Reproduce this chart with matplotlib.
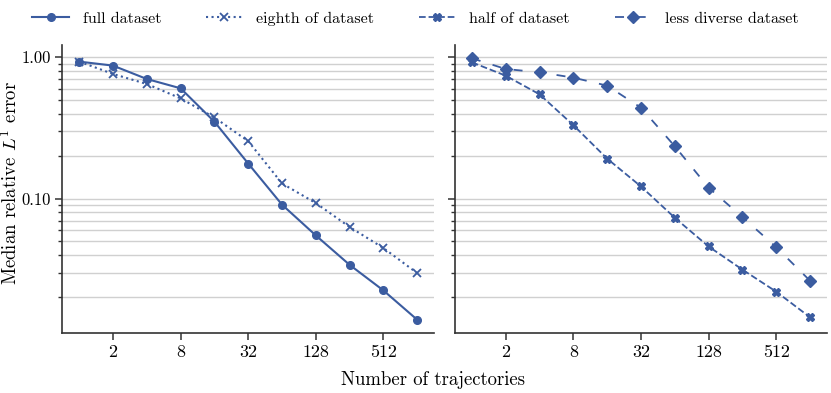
import matplotlib
matplotlib.use("Agg")
import matplotlib.pyplot as plt
from matplotlib.ticker import FixedLocator, FixedFormatter, LogLocator, NullFormatter

plt.rcParams['font.family'] = 'serif'
plt.rcParams['font.serif'] = ['cmr10', 'DejaVu Serif']
plt.rcParams['mathtext.fontset'] = 'cm'
plt.rcParams['axes.formatter.use_mathtext'] = True

# data
n_traj = [1, 2, 4, 8, 16, 32, 64, 128, 256, 512, 1024]
full = [0.932, 0.873, 0.702, 0.603, 0.350, 0.177, 0.0906, 0.0549, 0.0340, 0.0224, 0.0139]
eighth = [0.932, 0.762, 0.647, 0.512, 0.375, 0.255, 0.128, 0.093, 0.063, 0.0447, 0.0297]
half = [0.921, 0.741, 0.547, 0.331, 0.192, 0.122, 0.0733, 0.0459, 0.0315, 0.022, 0.0145]
less_diverse = [0.984, 0.826, 0.783, 0.718, 0.630, 0.440, 0.235, 0.1197, 0.0741, 0.0454, 0.0263]

x_ticks = [2, 8, 32, 128, 512]
y_ticks = [0.1, 1.0]
y_tick_labels = ['0.10', '1.00']

blue = '#3b5ca0'

fig, (ax1, ax2) = plt.subplots(1, 2, figsize=(8.31, 3.93), dpi=100, sharey=True)
fig.subplots_adjust(left=0.075, right=0.995, top=0.885, bottom=0.153, wspace=0.056)

l1, = ax1.plot(n_traj, full, color=blue, marker='o', ms=5.5, lw=1.5, label='full dataset')
l2, = ax1.plot(n_traj, eighth, color=blue, marker='x', ms=5.5, mew=1.3, lw=1.5, ls=':',
               label='eighth of dataset')
l3, = ax2.plot(n_traj, half, color=blue, marker='X', ms=6, lw=1.3, ls='--',
               label='half of dataset')
l4, = ax2.plot(n_traj, less_diverse, color=blue, marker='D', ms=6, lw=1.3,
               ls=(0, (5, 7)), label='less diverse dataset')

for ax in (ax1, ax2):
    ax.set_xscale('log', base=2)
    ax.set_yscale('log')
    ax.xaxis.set_major_locator(FixedLocator(x_ticks))
    ax.xaxis.set_major_formatter(FixedFormatter([str(t) for t in x_ticks]))
    ax.xaxis.set_minor_locator(FixedLocator([]))
    ax.yaxis.set_major_locator(FixedLocator(y_ticks))
    ax.yaxis.set_major_formatter(FixedFormatter(y_tick_labels))
    ax.yaxis.set_minor_locator(LogLocator(base=10, subs=range(2, 10)))
    ax.yaxis.set_minor_formatter(NullFormatter())
    ax.grid(True, axis='y', which='both', color='#d0d0d0', lw=1.0)
    ax.set_axisbelow(True)
    for s in ('top', 'right'):
        ax.spines[s].set_visible(False)
    for s in ('left', 'bottom'):
        ax.spines[s].set_linewidth(1.2)
        ax.spines[s].set_color('#333333')
    ax.tick_params(axis='x', which='major', length=5, width=1.1, color='#333333',
                   labelsize=13)
    ax.tick_params(axis='y', which='major', length=5, width=1.1, color='#333333',
                   labelsize=12)
    ax.tick_params(axis='y', which='minor', length=3, width=1.0, color='#333333')

ax1.set_ylabel('Median relative $L^1$ error', fontsize=13.5)
ax1.yaxis.set_label_coords(-0.11, 0.523)
fig.text(0.521, 0.01, 'Number of trajectories', ha='center', va='bottom', fontsize=13.5)

fig.legend(handles=[l1, l2, l3, l4], loc='center', bbox_to_anchor=(0.5, 0.953),
           ncol=4, frameon=False, fontsize=11.5, columnspacing=2.8,
           handlelength=2.3, handletextpad=0.85)

fig.savefig('out.png', dpi=100)
